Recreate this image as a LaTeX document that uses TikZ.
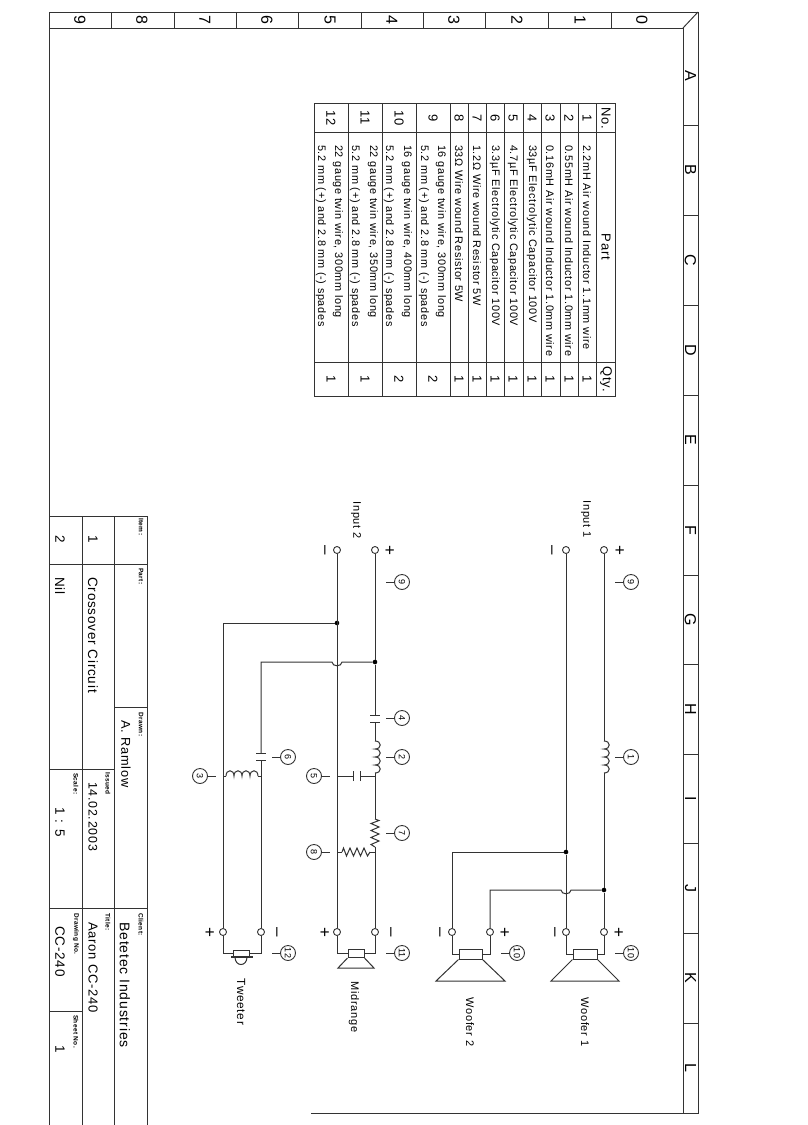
\documentclass[tikz,border=0pt]{standalone}
\usepackage{fontspec}
\setmainfont{Liberation Sans}[LetterSpace=6]
\usetikzlibrary{positioning}
\tikzset{
  wire/.style={draw=black!80,line width=1pt},
  frameline/.style={draw=black!80,line width=0.95pt},
  terminal/.style={circle,draw=black!80,fill=white,line width=0.9pt,minimum size=7pt,inner sep=0pt},
  junction/.style={circle,fill=black,minimum size=4.6pt,inner sep=0pt},
  magnet/.style={rectangle,draw=black!80,line width=1pt,inner sep=0pt},
  callout/.style={circle,draw=black!80,line width=0.9pt,minimum size=15pt,inner sep=0pt,rotate=-90,font=\fontsize{9}{9}\selectfont},
  txt/.style={rotate=-90,inner sep=0pt,text=black,font=\fontsize{11}{11}\selectfont},
  rowtxt/.style={txt,font=\fontsize{13}{13}\selectfont},
  parttxt/.style={txt,anchor=west,font=\fontsize{10.9}{10.9}\selectfont},
  bigtxt/.style={txt,anchor=west,font=\fontsize{13.5}{13.5}\selectfont},
  smalltxt/.style={txt,anchor=west,font=\fontsize{6.5}{6.5}\selectfont\bfseries},
  strip/.style={txt,font=\fontsize{16}{16}\selectfont},
  sign/.style={txt,font=\fontsize{17}{17}\selectfont},
  coil/.pic={
    \coordinate (-a) at (0,0);
    \coordinate (-b) at (0,32);
    \draw[wire] (0,0) .. controls (7,0) and (7,8) .. (0,8)
      .. controls (7,8) and (7,16) .. (0,16)
      .. controls (7,16) and (7,24) .. (0,24)
      .. controls (7,24) and (7,32) .. (0,32);
  },
  res/.pic={
    \coordinate (-a) at (0,0);
    \coordinate (-b) at (0,28);
    \draw[wire] (0,0) -- (4,1.5) -- (-4,4.5) -- (4,8) -- (-4,11.5) -- (4,15) -- (-4,18.5) -- (4,22) -- (-4,25.5) -- (0,28);
  },
  cap/.pic={
    \coordinate (-a) at (0,0);
    \coordinate (-b) at (0,7);
    \draw[wire] (-5,0) -- (5,0) (-5,7) -- (5,7);
  }
}
\begin{document}
\begin{tikzpicture}[x=1pt,y=-1pt]
  \useasboundingbox (0,0) rectangle (808,1125);

  % Draw the frame
  \draw[frameline] (49,1125) -- (49,12) -- (698,12) -- (698,1113) -- (311,1113);
  \draw[frameline] (49,28) -- (683,28) -- (683,1113);
  \draw[frameline] (683,28) -- (698,12);

  % Draw the strip ticks
  \draw[frameline] (111,12) -- (111,28) (174,12) -- (174,28) (236,12) -- (236,28)
    (298,12) -- (298,28) (361,12) -- (361,28) (423,12) -- (423,28)
    (485,12) -- (485,28) (548,12) -- (548,28) (611,12) -- (611,28);
  \draw[frameline] (683,125) -- (698,125) (683,215) -- (698,215) (683,305) -- (698,305)
    (683,395) -- (698,395) (683,485) -- (698,485) (683,575) -- (698,575)
    (683,664) -- (698,664) (683,754) -- (698,754) (683,843) -- (698,843)
    (683,933) -- (698,933) (683,1023) -- (698,1023);

  % Add the strip labels
  \node[strip] (num9) at (80,20) {9};
  \node[strip] (num8) at (142,20) {8};
  \node[strip] (num7) at (205,20) {7};
  \node[strip] (num6) at (267,20) {6};
  \node[strip] (num5) at (330,20) {5};
  \node[strip] (num4) at (392,20) {4};
  \node[strip] (num3) at (454,20) {3};
  \node[strip] (num2) at (517,20) {2};
  \node[strip] (num1) at (580,20) {1};
  \node[strip] (num0) at (642,20) {0};
  \node[strip] (letA) at (690.5,76) {A};
  \node[strip] (letB) at (690.5,170) {B};
  \node[strip] (letC) at (690.5,260) {C};
  \node[strip] (letD) at (690.5,350) {D};
  \node[strip] (letE) at (690.5,440) {E};
  \node[strip] (letF) at (690.5,530) {F};
  \node[strip] (letG) at (690.5,620) {G};
  \node[strip] (letH) at (690.5,709) {H};
  \node[strip] (letI) at (690.5,799) {I};
  \node[strip] (letJ) at (690.5,888) {J};
  \node[strip] (letK) at (690.5,978) {K};
  \node[strip] (letL) at (690.5,1068) {L};

  % Draw the parts table
  \draw[frameline] (314,103) rectangle (615,396);
  \draw[frameline] (348,103) -- (348,396) (382,103) -- (382,396) (416,103) -- (416,396)
    (450,103) -- (450,396) (468,103) -- (468,396) (486,103) -- (486,396)
    (504,103) -- (504,396) (523,103) -- (523,396) (541,103) -- (541,396)
    (560,103) -- (560,396) (578,103) -- (578,396) (596,103) -- (596,396);
  \draw[frameline] (314,132) -- (615,132) (314,362) -- (615,362);

  % Add the table text
  \node[rowtxt] (hno) at (606,118) {No.};
  \node[rowtxt] (hpart) at (606,247) {Part};
  \node[rowtxt] (hqty) at (606,379) {Qty.};
  \node[rowtxt] (no1) at (587,118) {1};
  \node[rowtxt] (no2) at (569,118) {2};
  \node[rowtxt] (no3) at (550,118) {3};
  \node[rowtxt] (no4) at (532,118) {4};
  \node[rowtxt] (no5) at (513,118) {5};
  \node[rowtxt] (no6) at (495,118) {6};
  \node[rowtxt] (no7) at (477,118) {7};
  \node[rowtxt] (no8) at (459,118) {8};
  \node[rowtxt] (no9) at (433,118) {9};
  \node[rowtxt] (no10) at (399,118) {10};
  \node[rowtxt] (no11) at (365,118) {11};
  \node[rowtxt] (no12) at (331,118) {12};
  \node[parttxt] (part1) at (587,145) {2.2mH Air wound Inductor 1.1mm wire};
  \node[parttxt] (part2) at (569,145) {0.55mH Air wound Inductor 1.0mm wire};
  \node[parttxt] (part3) at (550,145) {0.16mH Air wound Inductor 1.0mm wire};
  \node[parttxt] (part4) at (532,145) {33µF Electrolytic Capacitor 100V};
  \node[parttxt] (part5) at (513,145) {4.7µF Electrolytic Capacitor 100V};
  \node[parttxt] (part6) at (495,145) {3.3µF Electrolytic Capacitor 100V};
  \node[parttxt] (part7) at (477,145) {1.2Ω Wire wound Resistor 5W};
  \node[parttxt] (part8) at (459,145) {33Ω Wire wound Resistor 5W};
  \node[parttxt] (part9a) at (441,145) {16 gauge twin wire, 300mm long};
  \node[parttxt] (part9b) at (424,145) {5.2 mm (+) and 2.8 mm (-) spades};
  \node[parttxt] (part10a) at (407,145) {16 gauge twin wire, 400mm long};
  \node[parttxt] (part10b) at (389,145) {5.2 mm (+) and 2.8 mm (-) spades};
  \node[parttxt] (part11a) at (373,145) {22 gauge twin wire, 350mm long};
  \node[parttxt] (part11b) at (355,145) {5.2 mm (+) and 2.8 mm (-) spades};
  \node[parttxt] (part12a) at (338,145) {22 gauge twin wire, 300mm long};
  \node[parttxt] (part12b) at (321,145) {5.2 mm (+) and 2.8 mm (-) spades};
  \node[rowtxt] (qty1) at (587,379) {1};
  \node[rowtxt] (qty2) at (569,379) {1};
  \node[rowtxt] (qty3) at (550,379) {1};
  \node[rowtxt] (qty4) at (532,379) {1};
  \node[rowtxt] (qty5) at (513,379) {1};
  \node[rowtxt] (qty6) at (495,379) {1};
  \node[rowtxt] (qty7) at (477,379) {1};
  \node[rowtxt] (qty8) at (459,379) {1};
  \node[rowtxt] (qty9) at (433,379) {2};
  \node[rowtxt] (qty10) at (399,379) {2};
  \node[rowtxt] (qty11) at (365,379) {1};
  \node[rowtxt] (qty12) at (331,379) {1};

  % Draw the title block
  \draw[frameline] (82,516) -- (82,1125) (114,516) -- (114,1125) (147,516) -- (147,1125);
  \draw[frameline] (49,516) -- (147,516) (49,564) -- (147,564);
  \draw[frameline] (114,707) -- (147,707) (49,769) -- (114,769) (49,908) -- (147,908) (49,1011) -- (82,1011);
  \node[smalltxt] (litem) at (141,518) {Item:};
  \node[smalltxt] (lpart) at (141,568) {Part:};
  \node[smalltxt] (ldrawn) at (141,712) {Drawn:};
  \node[smalltxt] (lissued) at (108,772) {Issued};
  \node[smalltxt] (lscale) at (76,773) {Scale:};
  \node[smalltxt] (lclient) at (141,913) {Client:};
  \node[smalltxt] (ltitle) at (108,913) {Title:};
  \node[smalltxt] (ldrawing) at (76,913) {Drawing No.};
  \node[smalltxt] (lsheet) at (76,1015) {Sheet No.};
  \node[bigtxt] (item1) at (93,535) {1};
  \node[bigtxt] (item2) at (60,535) {2};
  \node[bigtxt] (crossover) at (93,577) {Crossover Circuit};
  \node[bigtxt] (nil) at (60,577) {Nil};
  \node[bigtxt,font=\fontsize{12.8}{12.8}\selectfont] (ramlow) at (126,720) {A. Ramlow};
  \node[bigtxt,font=\fontsize{12.4}{12.4}\selectfont] (issued) at (93,782) {14.02.2003};
  \node[bigtxt] (scale) at (60,807) {1 : 5};
  \node[bigtxt,font=\fontsize{14}{14}\selectfont] (client) at (125,922) {Betetec Industries};
  \node[bigtxt,font=\fontsize{13}{13}\selectfont] (title) at (93,922) {Aaron CC-240};
  \node[bigtxt] (drawing) at (60,926) {CC-240};
  \node[bigtxt] (sheet) at (60,1045) {1};

  % Woofer inputs
  \node[txt] (labin1) at (586,519) {Input 1};
  \node[terminal] (in1p) at (604,550) {};
  \node[terminal] (in1m) at (566,550) {};
  \node[sign] (in1ps) at (619,550) {+};
  \node[sign] (in1ms) at (550,550) {–};
  \node[callout] (c9a) at (631,582) {9};
  \draw[wire] (c9a) -- ++(-16,0);
  \pic (l1) at (604,741) {coil};
  \node[callout] (c1) at (631,757) {1};
  \draw[wire] (c1) -- ++(-16,0);
  \node[junction] (jw1p) at (604,890) {};
  \node[junction] (jw1m) at (566,852) {};

  % Woofer terminals
  \node[terminal] (w1p) at (604,932) {};
  \node[terminal] (w1m) at (566,932) {};
  \node[terminal] (w2p) at (490,932) {};
  \node[terminal] (w2m) at (452,932) {};
  \node[sign] (w1ps) at (618,932) {+};
  \node[sign] (w1ms) at (553,932) {–};
  \node[sign] (w2ps) at (504,932) {+};
  \node[sign] (w2ms) at (438,932) {–};
  \draw[wire] (in1p) -- (l1-a) (l1-b) -- (jw1p) -- (w1p);
  \draw[wire] (in1m) -- (jw1m) -- (w1m);
  \draw[wire] (jw1m) -| (w2m);
  \draw[wire] (jw1p) -- (571,890) .. controls (571,895) and (561,895) .. (561,890) -| (w2p);

  % Woofer speakers
  \node[magnet,minimum width=24pt,minimum height=10pt] (m1) at (585,954) {};
  \node[magnet,minimum width=23pt,minimum height=10pt] (m2) at (470.5,954) {};
  \draw[wire] (w1p) |- (m1.east) (w1m) |- (m1.west);
  \draw[wire] (w2p) |- (m2.east) (w2m) |- (m2.west);
  \draw[wire] (m1.south west) -- (551,981) -- (619,981) -- (m1.south east);
  \draw[wire] (m2.south west) -- (436,981) -- (505,981) -- (m2.south east);
  \node[callout] (c10a) at (631,953) {10};
  \draw[wire] (c10a) -- ++(-16,0);
  \node[callout] (c10b) at (517,953) {10};
  \draw[wire] (c10b) -- ++(-16,0);
  \node[txt] (labw1) at (585,1022) {Woofer 1};
  \node[txt] (labw2) at (470,1022) {Woofer 2};

  % Midrange and tweeter inputs
  \node[txt] (labin2) at (356,520) {Input 2};
  \node[terminal] (in2p) at (375,550) {};
  \node[terminal] (in2m) at (337,550) {};
  \node[sign] (in2ps) at (389,550) {+};
  \node[sign] (in2ms) at (323,550) {–};
  \node[callout] (c9b) at (402,582) {9};
  \draw[wire] (c9b) -- ++(-16,0);
  \node[junction] (jt1) at (337,623) {};
  \node[junction] (jt2) at (375,662) {};

  % Midrange branch
  \pic (c4) at (375,715) {cap};
  \pic (l2) at (375,741) {coil};
  \pic[rotate=90] (c5) at (353,776) {cap};
  \pic (r7) at (375,819) {res};
  \pic[rotate=90] (r8) at (342,852) {res};
  \coordinate (n5) at (375,776);
  \coordinate (n5m) at (337,776);
  \coordinate (n8) at (375,852);
  \coordinate (n8m) at (337,852);
  \node[terminal] (midp) at (337,932) {};
  \node[terminal] (midm) at (375,932) {};
  \draw[wire] (in2p) -- (jt2) -- (c4-a) (c4-b) -- (l2-a) (l2-b) -- (r7-a) (r7-b) -- (midm);
  \draw[wire] (in2m) -- (midp);
  \draw[wire] (n5m) -- (c5-a) (c5-b) -- (n5);
  \draw[wire] (n8m) -- (r8-a) (r8-b) -- (n8);
  \node[callout] (c4n) at (402,718) {4};
  \draw[wire] (c4n) -- ++(-16,0);
  \node[callout] (c2) at (402,757) {2};
  \draw[wire] (c2) -- ++(-16,0);
  \node[callout] (c7) at (402,833) {7};
  \draw[wire] (c7) -- ++(-16,0);
  \node[callout] (c5n) at (314,776) {5};
  \draw[wire] (c5n) -- ++(16,0);
  \node[callout] (c8) at (314,852) {8};
  \draw[wire] (c8) -- ++(16,0);

  % Midrange speaker
  \node[magnet,minimum width=16pt,minimum height=8pt] (m3) at (356,953.5) {};
  \draw[wire] (midm) |- (m3.east) (midp) |- (m3.west);
  \draw[wire] (m3.south west) -- (338,968) -- (374,968) -- (m3.south east);
  \node[callout] (c11) at (402,953) {11};
  \draw[wire] (c11) -- ++(-16,0);
  \node[sign] (midps) at (324,932) {+};
  \node[sign] (midms) at (389,932) {–};
  \node[txt] (labmid) at (354,1007) {Midrange};

  % Tweeter branch
  \node[terminal] (twp) at (223,932) {};
  \node[terminal] (twm) at (261,932) {};
  \pic (c6) at (261,753) {cap};
  \pic[rotate=90] (l3) at (226,776) {coil};
  \coordinate (n3) at (223,776);
  \coordinate (n6) at (261,776);
  \draw[wire] (jt1) -| (twp);
  \draw[wire] (jt2) -- (342,662) .. controls (342,667) and (332,667) .. (332,662) -| (c6-a);
  \draw[wire] (c6-b) -- (twm);
  \draw[wire] (n3) -- (l3-a) (l3-b) -- (n6);
  \node[callout] (c6n) at (288,757) {6};
  \draw[wire] (c6n) -- ++(-16,0);
  \node[callout] (c3) at (200,776) {3};
  \draw[wire] (c3) -- ++(16,0);

  % Tweeter speaker
  \node[magnet,minimum width=16pt,minimum height=7pt] (m4) at (241,953.5) {};
  \draw[wire] (twm) |- (m4.east) (twp) |- (m4.west);
  \draw[wire,line width=1.5pt] (231,957) -- (253,957);
  \draw[wire] (235,957) .. controls (235,967) and (247,967) .. (247,957);
  \node[callout] (c12) at (288,953) {12};
  \draw[wire] (c12) -- ++(-16,0);
  \node[sign] (twps) at (209,932) {+};
  \node[sign] (twms) at (275,932) {–};
  \node[txt,font=\fontsize{11.8}{11.8}\selectfont] (labtw) at (241,1002) {Tweeter};
\end{tikzpicture}
\end{document}
